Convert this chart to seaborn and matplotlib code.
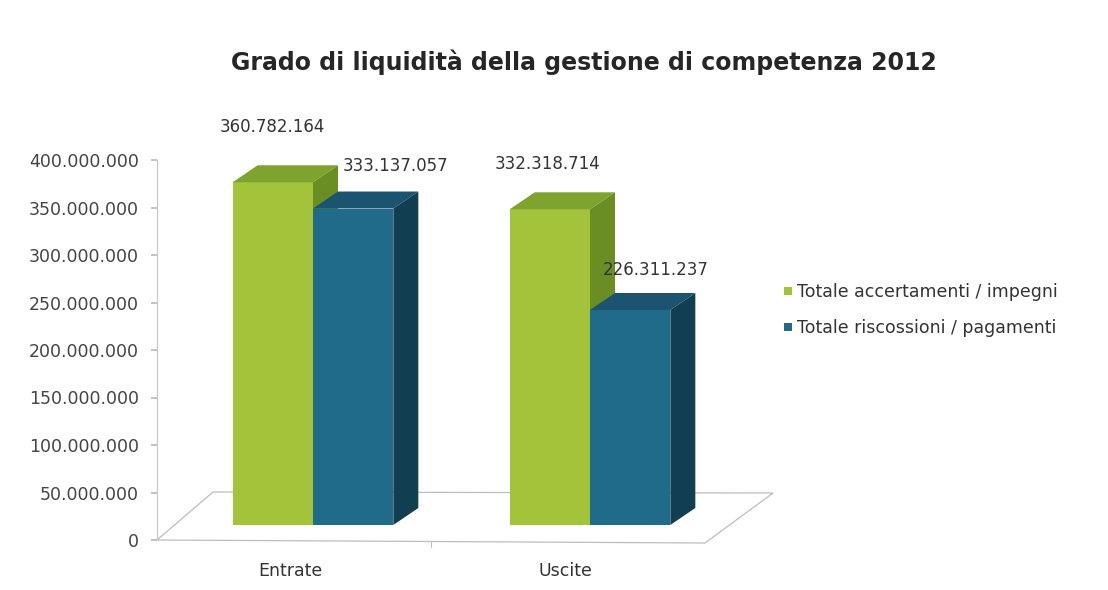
import matplotlib
matplotlib.use("Agg")
import matplotlib.pyplot as plt
from matplotlib.patches import Polygon
from matplotlib.lines import Line2D
import seaborn as sns
import pandas as pd

# ---- data ----
categories = ["Entrate", "Uscite"]
series = ["Totale accertamenti / impegni", "Totale riscossioni / pagamenti"]
accertamenti_impegni = [360782164, 332318714]
riscossioni_pagamenti = [333137057, 226311237]
title = "Grado di liquidità della gestione di competenza 2012"
yticks = [0, 50e6, 100e6, 150e6, 200e6, 250e6, 300e6, 350e6, 400e6]

df = pd.DataFrame({
    "cat": categories * 2,
    "serie": [series[0]] * 2 + [series[1]] * 2,
    "val": accertamenti_impegni + riscossioni_pagamenti,
})

sns.set_theme(style="white")
plt.rcParams["font.family"] = ["DejaVu Sans"]

W, H = 1108, 590
fig = plt.figure(figsize=(W / 100, H / 100), dpi=100)
fig.patch.set_facecolor("white")

front = {series[0]: "#a3c33a", series[1]: "#1f6b89"}
topc = {series[0]: "#7fa42e", series[1]: "#1a5470"}
sidec = {series[0]: "#6a8d24", series[1]: "#123e51"}


def fx(px):
    return px / W


def fy(py):
    return (H - py) / H


# ---- axis frame (y scale, floor, category labels) ----
ax_left, ax_right, y0, y400 = 157, 705, 540, 160
ax = fig.add_axes([fx(ax_left), fy(y0), fx(ax_right - ax_left), (y0 - y400) / H])
ax.set_zorder(1)
ax.set_ylim(0, 400e6)
lab_px = [290, 565]
unit = lab_px[1] - lab_px[0]
ax.set_xlim((ax_left - lab_px[0]) / unit, (ax_right - lab_px[0]) / unit)
ax.set_xticks(range(len(categories)))
ax.set_xticklabels(categories, fontsize=12.5, color="#333333")
ax.set_yticks(yticks)
ax.set_yticklabels([f"{int(v):,}".replace(",", ".") for v in yticks],
                   fontsize=12.5, color="#444444")
ax.tick_params(axis="y", length=4, color="#bbbbbb", pad=9, left=True)
ax.tick_params(axis="x", length=0, pad=16)
for s in ["top", "right", "bottom"]:
    ax.spines[s].set_visible(False)
ax.spines["left"].set_color("#c8c8c8")
ax.spines["left"].set_linewidth(0.9)
ax.patch.set_alpha(0)

# floor parallelogram (depth offset in pixels)
fdx, fdy = 56, 48
fl = [(fx(ax_left), fy(y0)), (fx(ax_right), fy(y0 + 3)),
      (fx(ax_right + fdx + 12), fy(y0 + 3 - fdy - 2)), (fx(ax_left + fdx), fy(y0 - fdy))]
ax.add_patch(Polygon(fl, closed=True, transform=fig.transFigure, clip_on=False,
                     facecolor="none", edgecolor="#bdbdbd", lw=0.9, zorder=0))
ax.add_line(Line2D([fx(431), fx(431)], [fy(y0 + 2), fy(y0 + 7)], clip_on=False,
                   transform=fig.transFigure, color="#bdbdbd", lw=0.8))

# ---- bars ----
base_px = 525
bar_unit = 277
bx0 = 313
axb = fig.add_axes([fx(ax_left), fy(base_px), fx(ax_right - ax_left), (y0 - y400) / H])
axb.set_zorder(2)
axb.patch.set_alpha(0)
sns.barplot(data=df, x="cat", y="val", hue="serie", hue_order=series,
            order=categories, palette=front, width=0.58, saturation=1,
            ax=axb, legend=False, linewidth=0)
axb.set_ylim(0, 400e6)
axb.set_xlim((ax_left - bx0) / bar_unit, (ax_right - bx0) / bar_unit)
axb.axis("off")

# depth vector for bars in data units
ddx_px, ddy_px = 25, 17
inv = axb.transData.inverted()
p0 = axb.transData.transform((0, 0))
ddx = inv.transform((p0[0] + ddx_px, p0[1]))[0] - inv.transform(p0)[0]
ddy = inv.transform((p0[0], p0[1] + ddy_px))[1] - inv.transform(p0)[1]

# patch order: Entrate/serie1, Uscite/serie1, Entrate/serie2, Uscite/serie2
bars = list(axb.patches)
label_dx = [0, -2, 42, 26]
label_dy = [55, 45, 43, 40]
for i, b in enumerate(bars):
    sname = series[i // len(categories)]
    z = 2 + (i // len(categories))
    b.set_zorder(z)
    b.set_clip_on(False)
    x0, w, h = b.get_x(), b.get_width(), b.get_height()
    top = [(x0, h), (x0 + w, h), (x0 + w + ddx, h + ddy), (x0 + ddx, h + ddy)]
    side = [(x0 + w, 0), (x0 + w + ddx, ddy), (x0 + w + ddx, h + ddy), (x0 + w, h)]
    axb.add_patch(Polygon(top, closed=True, facecolor=topc[sname], lw=0, zorder=z, clip_on=False))
    axb.add_patch(Polygon(side, closed=True, facecolor=sidec[sname], lw=0, zorder=z, clip_on=False))
    axb.annotate(f"{int(round(h)):,}".replace(",", "."), (x0 + w / 2, h),
                 xytext=(label_dx[i] * 0.72, label_dy[i] * 0.72), textcoords="offset points",
                 ha="center", va="center", fontsize=12, color="#333333", zorder=10,
                 annotation_clip=False)

# ---- legend ----
handles = [Line2D([], [], marker="s", linestyle="none", markersize=6,
                  markerfacecolor=front[s], markeredgewidth=0) for s in series]
fig.legend(handles, series, loc="center left", bbox_to_anchor=(fx(767), fy(310)),
           frameon=False, fontsize=12.5, handlelength=0.6, handletextpad=0.25,
           labelspacing=1.05, labelcolor="#333333")

# ---- title ----
fig.text(fx(584), fy(62), title, ha="center", va="center", fontsize=17,
         fontweight="bold", color="#262626")

fig.savefig("out.png", dpi=100, facecolor="white")
